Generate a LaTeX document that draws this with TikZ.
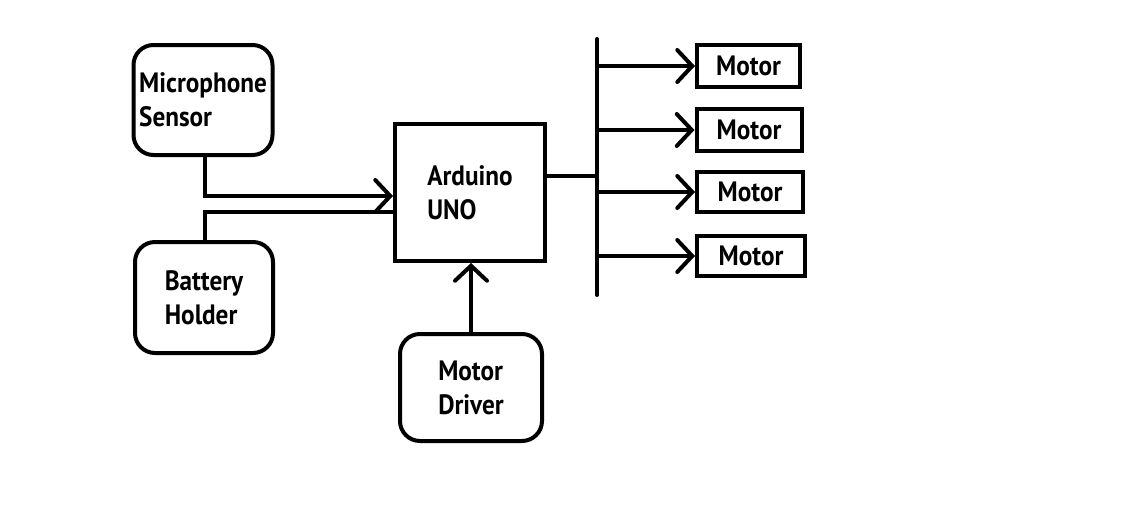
\documentclass[tikz,border=0pt]{standalone}
\usepackage{fontspec}
\setmainfont{PT Sans}[FakeStretch=0.9]
\usetikzlibrary{arrows.meta,calc}
\begin{document}
\begin{tikzpicture}[x=1pt,y=-1pt,
  every node/.style={font=\fontsize{28}{34}\selectfont\bfseries, align=left, inner sep=0pt},
  rbox/.style={draw, line width=4pt, rounded corners=20pt},
  sbox/.style={draw, line width=4pt},
  conn/.style={line width=4pt},
  arr/.style={conn, -{Straight Barb[length=15pt,width=32pt,line cap=round]}}
]
\useasboundingbox (0,0) rectangle (1137,530);
\node[rbox, minimum width=139pt, minimum height=110pt] (mic) at (203,100) {Microphone\\Sensor};
\node[rbox, minimum width=138pt, minimum height=111pt] (bat) at (204,297.5) {Battery\\Holder};
\node[sbox, minimum width=150pt, minimum height=137pt] (ard) at (470,192.5) {Arduino\\UNO};
\node[rbox, minimum width=142pt, minimum height=107pt] (drv) at (471,387.5) {Motor\\Driver};
\node[sbox, minimum width=103pt, minimum height=42pt] (m1) at (748.5,66) {Motor};
\node[sbox, minimum width=105pt, minimum height=42pt] (m2) at (749,130) {Motor};
\node[sbox, minimum width=106pt, minimum height=40pt] (m3) at (750,192) {Motor};
\node[sbox, minimum width=108pt, minimum height=40pt] (m4) at (751,256) {Motor};
\coordinate (bt) at (597,39);
\coordinate (bb) at (597,295);
\draw[conn, line cap=round] (bt) -- (bb);
\draw[conn] (ard.east |- 0,176) -- (bt |- 0,176);
\draw[arr] ($(mic.south)+(2,0)$) |- ($(ard.west)+(0,3.5)$);
\draw[conn] ($(bat.north)+(1,0)$) |- ($(ard.west)+(0,19.5)$);
\draw[arr] (drv.north) -- (drv.north |- ard.south);
\foreach \m in {m1,m2,m3,m4}
  \draw[arr] (\m.west -| bt) -- (\m.west);
\end{tikzpicture}
\end{document}
